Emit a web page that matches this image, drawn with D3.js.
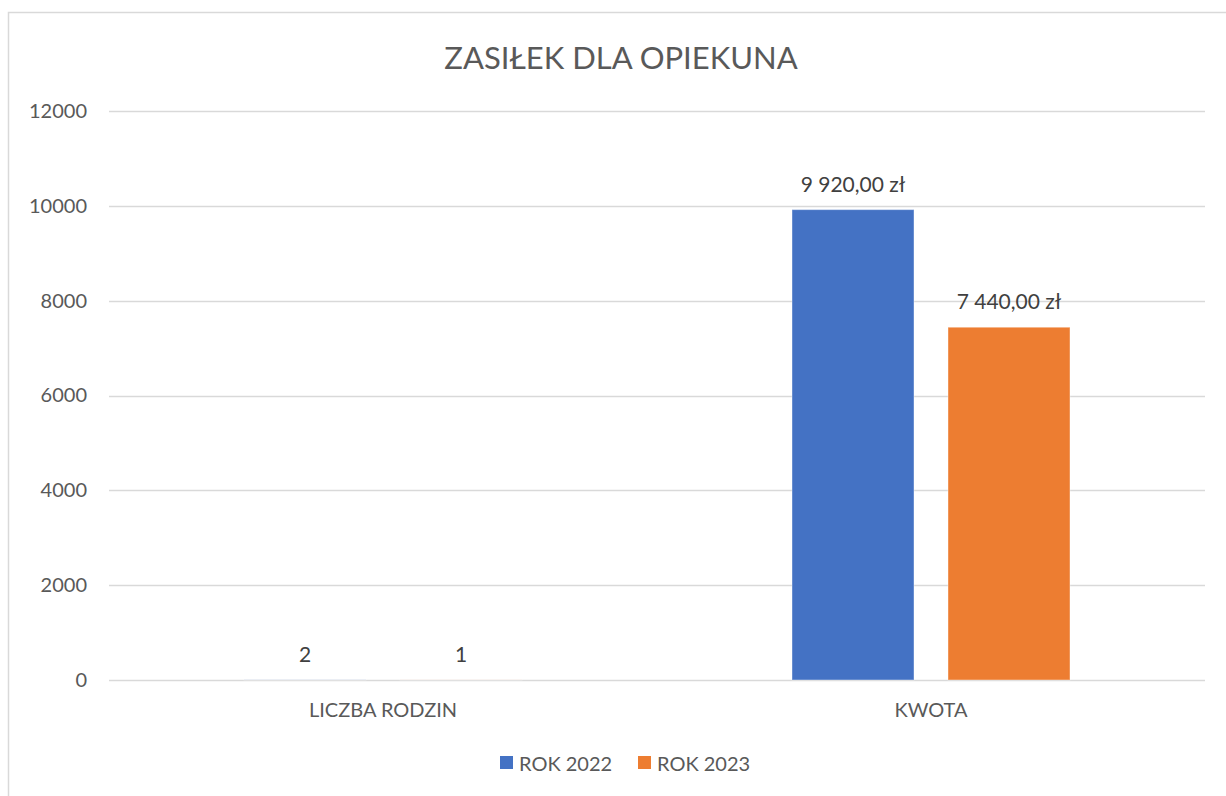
<!DOCTYPE html>
<html>
<head>
<meta charset="utf-8">
<script src="https://cdn.jsdelivr.net/npm/d3@7"></script>
<style>
  body { margin: 0; background: #fff; }
  text { font-family: Lato, "Open Sans", sans-serif; }
</style>
</head>
<body>
<svg id="chart" width="1226" height="796"></svg>
<script>
// data
var categories = ["LICZBA RODZIN", "KWOTA"];
var seriesNames = ["ROK 2022", "ROK 2023"];
var rok2022 = [2, 9920];
var rok2023 = [1, 7440];
var colors = ["#4472c4", "#ed7d31"];
var yTicks = [0, 2000, 4000, 6000, 8000, 10000, 12000];

var svg = d3.select("#chart");
var margin = { left: 109, right: 21, top: 111, bottom: 116 };
var w = 1226, h = 796;

// chart frame
svg.append("rect")
    .attr("x", 8.5).attr("y", 12.5)
    .attr("width", 1240).attr("height", 800)
    .attr("fill", "#fff")
    .attr("stroke", "#d9d9d9").attr("stroke-width", 1.5);

var scaleX = d3.scaleBand()
    .domain(categories)
    .range([margin.left, w - margin.right]);
var scaleY = d3.scaleLinear()
    .domain([0, 12000])
    .range([h - margin.bottom, margin.top]);
var barW = 122, innerGap = 34;

var rows = categories.map(function (c, i) {
    return { cat: c, vals: [rok2022[i], rok2023[i]] };
});

// gridlines
svg.append("g").selectAll("line")
    .data(yTicks)
    .enter().append("line")
    .attr("x1", margin.left).attr("x2", w - margin.right)
    .attr("y1", (d) => Math.round(scaleY(d)) + 0.5)
    .attr("y2", (d) => Math.round(scaleY(d)) + 0.5)
    .attr("stroke", "#d9d9d9").attr("stroke-width", 1.3);

// y axis labels
var yAxis = d3.axisLeft(scaleY).tickValues(yTicks).tickSize(0).tickPadding(22).tickFormat(d3.format("d"));
var gy = svg.append("g").attr("transform", "translate(" + margin.left + ",0)").call(yAxis);
gy.select(".domain").remove();
gy.selectAll("text")
    .attr("fill", "#595959")
    .style("font-size", "20px")
    .style("font-family", "Lato, 'Open Sans', sans-serif");

// x axis labels
var xAxis = d3.axisBottom(scaleX).tickSize(0).tickPadding(23);
var gx = svg.append("g").attr("transform", "translate(0," + scaleY(0) + ")").call(xAxis);
gx.select(".domain").remove();
gx.selectAll("text")
    .attr("fill", "#595959")
    .style("font-size", "20px")
    .style("font-family", "Lato, 'Open Sans', sans-serif");

function barX(cat, s) {
    var c = scaleX(cat) + scaleX.bandwidth() / 2;
    return s === 0 ? c - innerGap / 2 - barW : c + innerGap / 2;
}
function labelText(cat, v) {
    if (cat === "KWOTA") {
        return d3.format(",.2f")(v).replace(/,/g, " ").replace(".", ",") + " zł";
    }
    return String(v);
}

var groups = svg.append("g").selectAll("g")
    .data(rows).enter().append("g");

seriesNames.forEach(function (name, s) {
    groups.append("rect")
        .attr("x", (d) => barX(d.cat, s))
        .attr("y", (d) => scaleY(d.vals[s]))
        .attr("width", barW)
        .attr("height", (d) => scaleY(0) - scaleY(d.vals[s]))
        .attr("fill", colors[s])
        .attr("stroke", "#fff").attr("stroke-opacity", 0.4).attr("stroke-width", 1);

    groups.append("text")
        .attr("x", (d) => barX(d.cat, s) + barW / 2)
        .attr("y", (d) => scaleY(d.vals[s]) - 18)
        .attr("text-anchor", "middle")
        .attr("fill", "#404040")
        .style("font-size", "21px")
        .text((d) => labelText(d.cat, d.vals[s]));
});

// title
svg.append("text")
    .attr("x", 621).attr("y", 69)
    .attr("text-anchor", "middle")
    .attr("fill", "#595959")
    .style("font-size", "31px")
    .text("ZASIŁEK DLA OPIEKUNA");

// legend
var legend = svg.append("g");
var lx = [500, 638];
seriesNames.forEach(function (name, s) {
    legend.append("rect")
        .attr("x", lx[s]).attr("y", 756)
        .attr("width", 13).attr("height", 13)
        .attr("fill", colors[s]);
    legend.append("text")
        .attr("x", lx[s] + 19).attr("y", 771)
        .attr("fill", "#595959")
        .style("font-size", "20px")
        .text(name);
});
</script>
</body>
</html>
